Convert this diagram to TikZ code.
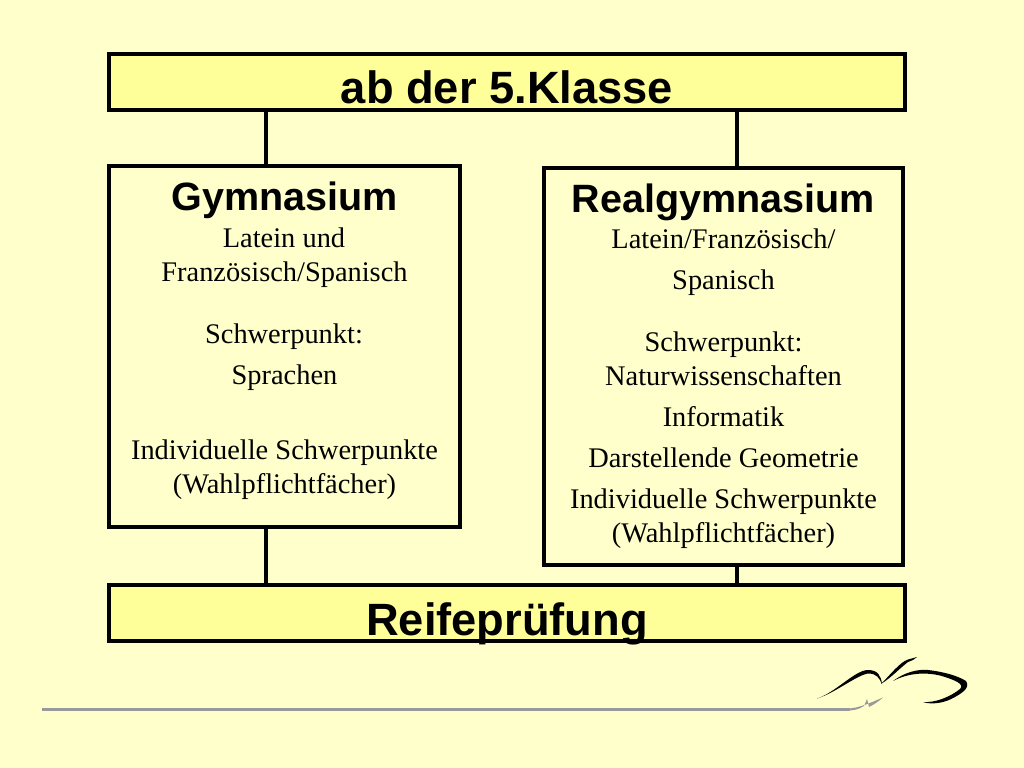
\documentclass[tikz,border=0pt]{standalone}
\usepackage{fontspec}
\setmainfont{Liberation Serif}
\newfontfamily\headfont{Liberation Sans}
\definecolor{slidebg}{HTML}{FFFFCC}
\definecolor{barfill}{HTML}{FFFF99}
\definecolor{rulegray}{HTML}{999999}
\newdimen\pxu
\pxu=0.025cm
\tikzset{
  barbox/.style={draw=black,line width=2.7pt,fill=barfill,minimum width=796\pxu,minimum height=56\pxu,inner sep=0pt},
  bartext/.style={font=\headfont\fontsize{32.2}{36}\bfseries,inner sep=0pt,anchor=base},
  schoolbox/.style={draw=black,line width=2.7pt,fill=slidebg,inner sep=0pt},
  headline/.style={font=\headfont\fontsize{28.1}{32}\bfseries,inner sep=0pt,anchor=base},
  bodyline/.style={font=\fontsize{20.2}{22}\selectfont,inner sep=0pt,anchor=base},
  joinline/.style={line width=2.7pt},
}
\begin{document}
\begin{tikzpicture}[x=0.025cm,y=-0.025cm]
  \useasboundingbox (0,0) rectangle (1024,768);
  \fill[slidebg] (0,0) rectangle (1024,768);
  % boxes
  \node[barbox] (topbar) at (507,82) {};
  \node[barbox] (bottombar) at (507,613) {};
  \node[schoolbox,minimum width=351\pxu,minimum height=361\pxu] (gymbox) at (284.5,346.5) {};
  \node[schoolbox,minimum width=359\pxu,minimum height=397\pxu] (realbox) at (723.5,366.5) {};
  % connectors
  \coordinate (leftx) at (266,0);
  \coordinate (rightx) at (737,0);
  \draw[joinline] (topbar.south -| leftx) -- (gymbox.north -| leftx);
  \draw[joinline] (topbar.south -| rightx) -- (realbox.north -| rightx);
  \draw[joinline] (gymbox.south -| leftx) -- (bottombar.north -| leftx);
  \draw[joinline] (realbox.south -| rightx) -- (bottombar.north -| rightx);
  % bars
  \node[bartext] (toptext) at (507,104) {ab der 5.Klasse};
  \node[bartext] (bottomtext) at (507,635) {Reifeprüfung};
  % left column
  \node[headline] (gymhead) at (284.5,210) {Gymnasium};
  \node[bodyline] (gym1) at (284,247) {Latein und};
  \node[bodyline] (gym2) at (284.5,281) {Französisch/Spanisch};
  \node[bodyline] (gym3) at (284,343) {Schwerpunkt:};
  \node[bodyline] (gym4) at (284.5,384) {Sprachen};
  \node[bodyline] (gym5) at (284.5,459) {Individuelle Schwerpunkte};
  \node[bodyline] (gym6) at (284.5,493) {(Wahlpflichtfächer)};
  % right column
  \node[headline] (realhead) at (723.5,212) {Realgymnasium};
  \node[bodyline] (real1) at (723.5,248) {Latein/Französisch/};
  \node[bodyline] (real2) at (723.5,289) {Spanisch};
  \node[bodyline] (real3) at (723.5,351) {Schwerpunkt:};
  \node[bodyline] (real4) at (723.5,385) {Naturwissenschaften};
  \node[bodyline] (real5) at (723.5,426) {Informatik};
  \node[bodyline] (real6) at (723.5,467) {Darstellende Geometrie};
  \node[bodyline] (real7) at (723.5,508) {Individuelle Schwerpunkte};
  \node[bodyline] (real8) at (723.5,542) {(Wahlpflichtfächer)};
  % logo
  \draw[rulegray,line width=1.6pt] (42,709.5) -- (850,709.5);
  \fill[rulegray] (848,708.6) .. controls (860,708) and (872,702) .. (883,697.5) .. controls (878,702) and (873,705) .. (869,707) -- (867,699) -- (864,706) .. controls (858,710) and (852,710.5) .. (848,710.4) -- cycle;
  \fill[black] (817,698.5) .. controls (835,693) and (855,670) .. (868,670) .. controls (878,670) and (881,676) .. (882,684) .. controls (879,678) and (877,673.5) .. (868,673.5) .. controls (857,675) and (835,693) .. (817,698.5) -- cycle;
  \fill[black] (881,684) .. controls (890,675) and (900,662) .. (908,659.5) -- (917,657) -- (913,660) -- (908,662) .. controls (900,668) and (892,677) .. (881,684) -- cycle;
  \fill[black] (893,681) .. controls (905,672) and (918,669) .. (928,670) .. controls (945,672) and (958,676) .. (966,681) .. controls (970,687) and (964,692) .. (955,697) .. controls (945,703) and (932,705) .. (923,702) .. controls (935,703) and (950,697) .. (960,689) .. controls (965,684) and (955,680) .. (940,675.5) .. controls (925,672) and (908,673) .. (893,681) -- cycle;
\end{tikzpicture}
\end{document}
